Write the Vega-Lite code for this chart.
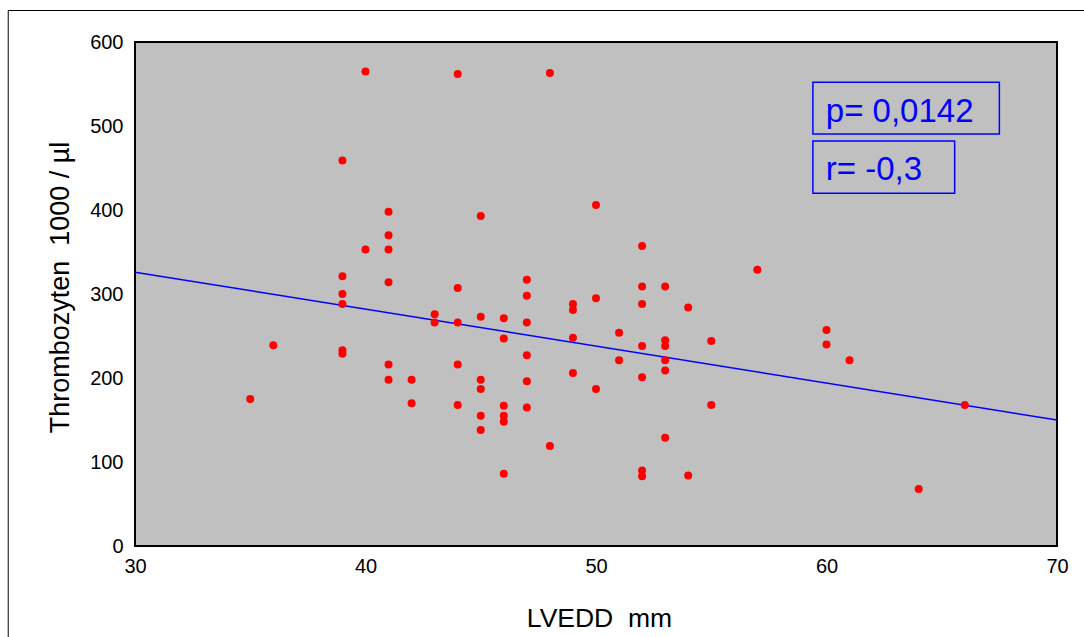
{
  "$schema": "https://vega.github.io/schema/vega-lite/v6.json",
  "width": 922,
  "height": 504,
  "autosize": "none",
  "padding": {"left": 135, "top": 42, "right": 27, "bottom": 91},
  "background": "#FFFFFF",
  "config": {
    "font": "Liberation Sans",
    "view": {"fill": "#C0C0C0", "stroke": "#000000", "strokeWidth": 2},
    "axis": {
      "grid": false,
      "domain": false,
      "ticks": false,
      "tickSize": 0,
      "labelFlush": false,
      "labelOverlap": false,
      "labelFont": "Liberation Sans",
      "labelFontSize": 20,
      "labelColor": "#000000",
      "titleFont": "Liberation Sans",
      "titleFontWeight": "normal",
      "titleColor": "#000000"
    }
  },
  "datasets": {
    "points": [
      {"lvedd": 35, "thrombo": 175},
      {"lvedd": 36, "thrombo": 239},
      {"lvedd": 39, "thrombo": 459},
      {"lvedd": 39, "thrombo": 321},
      {"lvedd": 39, "thrombo": 300},
      {"lvedd": 39, "thrombo": 288},
      {"lvedd": 39, "thrombo": 233},
      {"lvedd": 39, "thrombo": 229},
      {"lvedd": 40, "thrombo": 565},
      {"lvedd": 40, "thrombo": 353},
      {"lvedd": 41, "thrombo": 398},
      {"lvedd": 41, "thrombo": 370},
      {"lvedd": 41, "thrombo": 353},
      {"lvedd": 41, "thrombo": 314},
      {"lvedd": 41, "thrombo": 216},
      {"lvedd": 41, "thrombo": 198},
      {"lvedd": 42, "thrombo": 198},
      {"lvedd": 42, "thrombo": 170},
      {"lvedd": 43, "thrombo": 276},
      {"lvedd": 43, "thrombo": 266},
      {"lvedd": 44, "thrombo": 562},
      {"lvedd": 44, "thrombo": 307},
      {"lvedd": 44, "thrombo": 266},
      {"lvedd": 44, "thrombo": 216},
      {"lvedd": 44, "thrombo": 168},
      {"lvedd": 45, "thrombo": 393},
      {"lvedd": 45, "thrombo": 273},
      {"lvedd": 45, "thrombo": 198},
      {"lvedd": 45, "thrombo": 187},
      {"lvedd": 45, "thrombo": 155},
      {"lvedd": 45, "thrombo": 138},
      {"lvedd": 46, "thrombo": 271},
      {"lvedd": 46, "thrombo": 247},
      {"lvedd": 46, "thrombo": 167},
      {"lvedd": 46, "thrombo": 155},
      {"lvedd": 46, "thrombo": 148},
      {"lvedd": 46, "thrombo": 86},
      {"lvedd": 47, "thrombo": 317},
      {"lvedd": 47, "thrombo": 298},
      {"lvedd": 47, "thrombo": 266},
      {"lvedd": 47, "thrombo": 227},
      {"lvedd": 47, "thrombo": 196},
      {"lvedd": 47, "thrombo": 165},
      {"lvedd": 48, "thrombo": 563},
      {"lvedd": 48, "thrombo": 119},
      {"lvedd": 49, "thrombo": 288},
      {"lvedd": 49, "thrombo": 281},
      {"lvedd": 49, "thrombo": 248},
      {"lvedd": 49, "thrombo": 206},
      {"lvedd": 50, "thrombo": 406},
      {"lvedd": 50, "thrombo": 295},
      {"lvedd": 50, "thrombo": 187},
      {"lvedd": 51, "thrombo": 254},
      {"lvedd": 51, "thrombo": 221},
      {"lvedd": 52, "thrombo": 357},
      {"lvedd": 52, "thrombo": 309},
      {"lvedd": 52, "thrombo": 288},
      {"lvedd": 52, "thrombo": 238},
      {"lvedd": 52, "thrombo": 201},
      {"lvedd": 52, "thrombo": 90},
      {"lvedd": 52, "thrombo": 83},
      {"lvedd": 53, "thrombo": 309},
      {"lvedd": 53, "thrombo": 245},
      {"lvedd": 53, "thrombo": 238},
      {"lvedd": 53, "thrombo": 221},
      {"lvedd": 53, "thrombo": 209},
      {"lvedd": 53, "thrombo": 129},
      {"lvedd": 54, "thrombo": 284},
      {"lvedd": 54, "thrombo": 84},
      {"lvedd": 55, "thrombo": 244},
      {"lvedd": 55, "thrombo": 168},
      {"lvedd": 57, "thrombo": 329},
      {"lvedd": 60, "thrombo": 257},
      {"lvedd": 60, "thrombo": 240},
      {"lvedd": 61, "thrombo": 221},
      {"lvedd": 64, "thrombo": 68},
      {"lvedd": 66, "thrombo": 168}
    ],
    "fit": [
      {"lvedd": 30, "thrombo": 326},
      {"lvedd": 70, "thrombo": 150}
    ]
  },
  "layer": [
    {
      "data": {"values": [{}]},
      "mark": {"type": "rect", "fillOpacity": 0, "stroke": "#000000", "strokeWidth": 1, "clip": false},
      "encoding": {
        "x": {"datum": 24.5, "type": "quantitative"},
        "x2": {"datum": 75},
        "y": {"datum": 637.5, "type": "quantitative"},
        "y2": {"datum": -150}
      }
    },
    {
      "data": {"name": "fit"},
      "mark": {"type": "line", "color": "#0000FF", "strokeWidth": 1.5},
      "encoding": {
        "x": {
          "field": "lvedd",
          "type": "quantitative",
          "scale": {"domain": [30, 70], "nice": false, "zero": false},
          "axis": {
            "values": [30, 40, 50, 60, 70],
            "labelPadding": 10,
            "title": "LVEDD\u00a0 mm",
            "titleFontSize": 26.5,
            "titleX": 464,
            "titleY": 80.7,
            "titleBaseline": "alphabetic",
            "titleAlign": "center"
          }
        },
        "y": {
          "field": "thrombo",
          "type": "quantitative",
          "scale": {"domain": [0, 600], "nice": false},
          "axis": {
            "values": [0, 100, 200, 300, 400, 500, 600],
            "labelPadding": 12,
            "title": "Thrombozyten\u00a0 1000 / µl",
            "titleFontSize": 27,
            "titleX": -67,
            "titleY": 245,
            "titleAngle": -90,
            "titleBaseline": "alphabetic",
            "titleAlign": "center"
          }
        }
      }
    },
    {
      "data": {"name": "points"},
      "mark": {"type": "circle", "color": "#FF0000", "opacity": 1, "size": 64},
      "encoding": {
        "x": {"field": "lvedd", "type": "quantitative"},
        "y": {"field": "thrombo", "type": "quantitative"}
      }
    },
    {
      "data": {"values": [{}]},
      "mark": {"type": "rect", "fillOpacity": 0, "stroke": "#0000FF", "strokeWidth": 1.5},
      "encoding": {
        "x": {"datum": 59.41, "type": "quantitative"},
        "x2": {"datum": 67.5},
        "y": {"datum": 552, "type": "quantitative"},
        "y2": {"datum": 490.5}
      }
    },
    {
      "data": {"values": [{}]},
      "mark": {"type": "rect", "fillOpacity": 0, "stroke": "#0000FF", "strokeWidth": 1.5},
      "encoding": {
        "x": {"datum": 59.41, "type": "quantitative"},
        "x2": {"datum": 65.56},
        "y": {"datum": 482, "type": "quantitative"},
        "y2": {"datum": 420}
      }
    },
    {
      "data": {"values": [{}]},
      "mark": {"type": "text", "text": "p= 0,0142", "font": "Liberation Sans", "fontSize": 33, "color": "#0000FF", "align": "left", "baseline": "alphabetic"},
      "encoding": {
        "x": {"datum": 59.97, "type": "quantitative"},
        "y": {"datum": 505, "type": "quantitative"}
      }
    },
    {
      "data": {"values": [{}]},
      "mark": {"type": "text", "text": "r= -0,3", "font": "Liberation Sans", "fontSize": 33, "color": "#0000FF", "align": "left", "baseline": "alphabetic"},
      "encoding": {
        "x": {"datum": 59.97, "type": "quantitative"},
        "y": {"datum": 435.7, "type": "quantitative"}
      }
    }
  ]
}
